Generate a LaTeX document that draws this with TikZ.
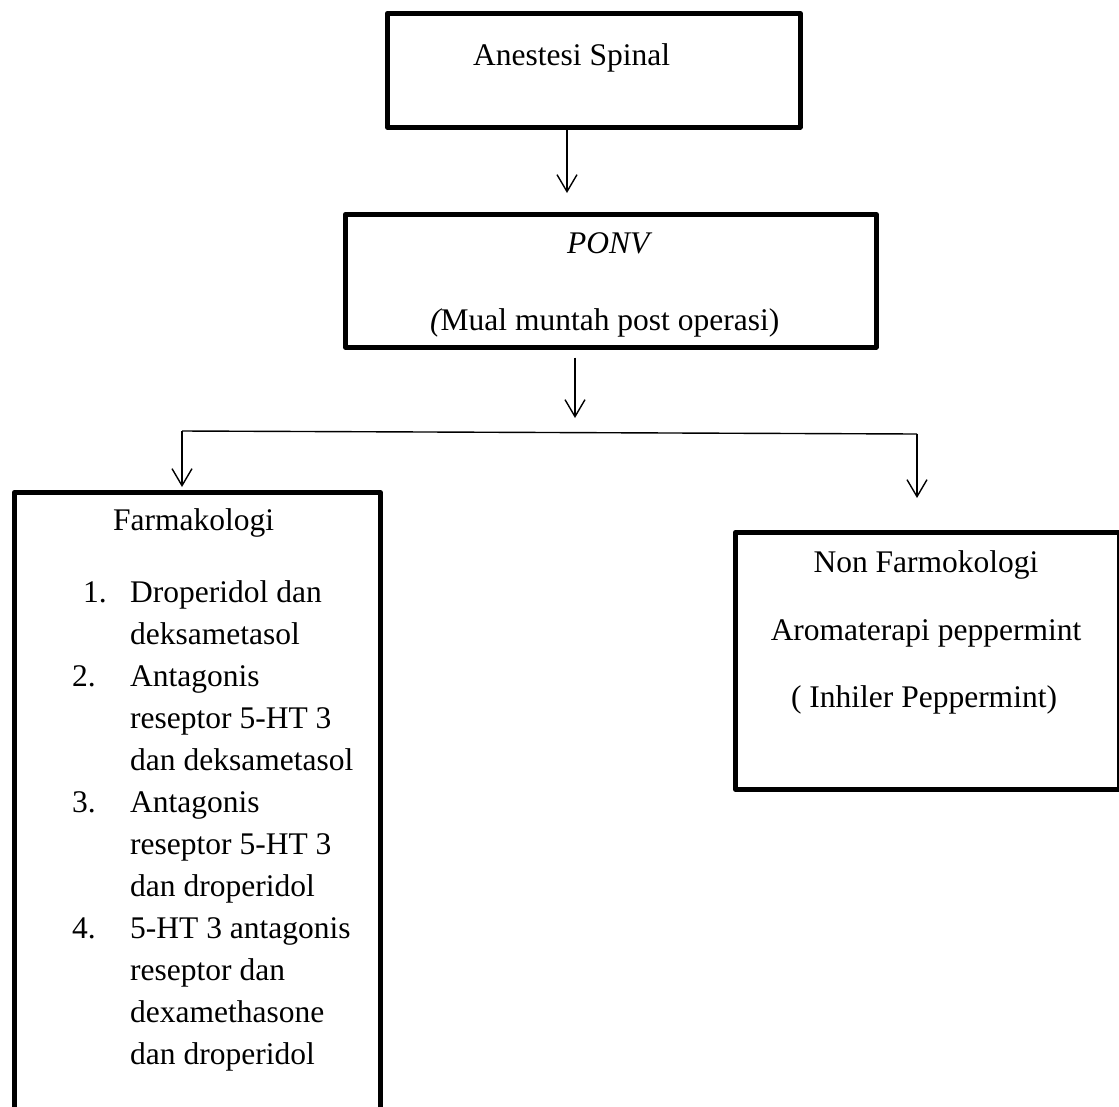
\documentclass[tikz,border=0pt]{standalone}
\usepackage{fontspec}
\setmainfont{Liberation Serif}
\usetikzlibrary{arrows.meta,calc}
\begin{document}
\begin{tikzpicture}[x=1pt,y=-1pt,
  box/.style={draw, line width=4.5pt, line join=round, rectangle, inner sep=0pt, anchor=north west},
  txt/.style={anchor=base west, inner sep=0pt, font=\fontsize{31.5}{38}\selectfont},
  conn/.style={line width=1.4pt},
  arr/.style={conn, -{Straight Barb[length=17pt,width=20pt,line width=1.4pt]}}]
\useasboundingbox (0,0) rectangle (1119,1106);
% boxes
\node[box, minimum width=413pt, minimum height=114pt] (spinal) at (385,11) {};
\node[box, minimum width=531pt, minimum height=133pt] (ponv) at (343,212) {};
\node[box, minimum width=366pt, minimum height=650pt] (farm) at (12,490) {};
\node[box, minimum width=384pt, minimum height=257pt] (nonfarm) at (733,530) {};
% texts
\node[txt] (tspinal) at (473,65) {Anestesi Spinal};
\node[txt] (tponv) at (567,253) {\itshape PONV};
\node[txt] (tmual) at (430,330) {\itshape(\upshape Mual muntah post operasi)};
\node[txt] (tfarm) at (113,530) {Farmakologi};
\node[txt] (n1) at (83,602) {1.};
\node[txt] (l1) at (130,602) {Droperidol dan};
\node[txt] (l2) at (130,644) {deksametasol};
\node[txt] (n2) at (72,686) {2.};
\node[txt] (l3) at (130,686) {Antagonis};
\node[txt] (l4) at (130,728) {reseptor 5-HT 3};
\node[txt] (l5) at (130,770) {dan deksametasol};
\node[txt] (n3) at (72,812) {3.};
\node[txt] (l6) at (130,812) {Antagonis};
\node[txt] (l7) at (130,854) {reseptor 5-HT 3};
\node[txt] (l8) at (130,896) {dan droperidol};
\node[txt] (n4) at (72,938) {4.};
\node[txt] (l9) at (130,938) {5-HT 3 antagonis};
\node[txt] (l10) at (130,980) {reseptor dan};
\node[txt] (l11) at (130,1022) {dexamethasone};
\node[txt] (l12) at (130,1064) {dan droperidol};
\node[txt, anchor=base] (tnon) at (926,572) {Non Farmokologi};
\node[txt, anchor=base] (taroma) at (926,640) {Aromaterapi peppermint};
\node[txt, anchor=base] (tinh) at (924,707) {( Inhiler Peppermint)};
% connectors
\coordinate (a1e) at (567,193);
\draw[arr] (spinal.south -| a1e) -- (a1e);
\coordinate (a2e) at (575,418);
\draw[arr] ($(ponv.south -| a2e)+(0,8)$) -- (a2e);
\coordinate (hl) at (182,431);
\coordinate (hr) at (917,434);
\draw[conn] (hl) -- (hr);
\draw[arr] (hl) -- ($(farm.north -| hl)+(0,-3)$);
\draw[arr] (hr) -- ($(nonfarm.north -| hr)+(0,-32)$);
\end{tikzpicture}
\end{document}
